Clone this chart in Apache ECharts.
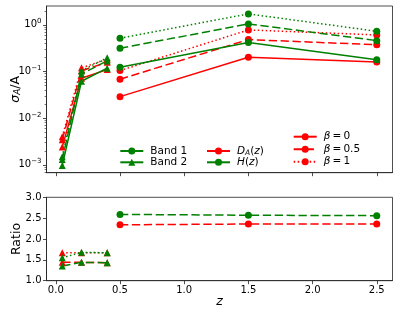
<!DOCTYPE html>
<html>
<head>
<meta charset="utf-8">
<script src="https://cdn.jsdelivr.net/npm/echarts@6/dist/echarts.min.js"></script>
<style>html,body{margin:0;padding:0;background:#fff}#c{width:399px;height:314px}</style>
</head>
<body>
<div id="c"></div>
<script>
// ---- data ----
const zBand1 = [0.5, 1.5, 2.5];
const zBand2 = [0.05, 0.2, 0.4];
// top panel: sigma_A / A
const DA_b0_band1  = [0.029, 0.203, 0.161];
const DA_b05_band1 = [0.0686, 0.485, 0.375];
const DA_b1_band1  = [0.105, 0.78, 0.61];
const H_b0_band1   = [0.124, 0.418, 0.178];
const H_b05_band1  = [0.316, 1.05, 0.46];
const H_b1_band1   = [0.518, 1.72, 0.73];
const DA_b0_band2  = [0.0024, 0.072, 0.110];
const DA_b05_band2 = [0.00346, 0.104, 0.158];
const DA_b1_band2  = [0.0040, 0.120, 0.184];
const H_b0_band2   = [0.00097, 0.062, 0.118];
const H_b05_band2  = [0.00130, 0.089, 0.169];
const H_b1_band2   = [0.00150, 0.104, 0.197];
// bottom panel: ratio
const ratioDA_b05_band1 = [2.34, 2.36, 2.36];
const ratioH_b05_band1  = [2.59, 2.57, 2.56];
const ratioDA_b05_band2 = [1.44, 1.44, 1.43];
const ratioH_b05_band2  = [1.35, 1.44, 1.43];
const ratioDA_b1_band2  = [1.67, 1.67, 1.67];
const ratioH_b1_band2   = [1.55, 1.68, 1.67];
// ticks
const xTicks = [0, 0.5, 1.0, 1.5, 2.0, 2.5];
const yLogTicks = [0.001, 0.01, 0.1, 1];
const yLogDecades = [0.0001, 0.001, 0.01, 0.1, 1];
const yLogMinorMult = [2, 3, 4, 5, 6, 7, 8, 9];

// ---- style ----
const FONT = 'DejaVu Sans';
const RED = '#ff0000', GREEN = '#008000';
const AX = '#222';
const SOLID = 'solid', DASHED = [8.3, 3.6], DOTTED = [1.5, 2.5];
const XMIN = -0.0725, XMAX = 2.6225;
const YMIN = Math.pow(10, -3.168), YMAX = Math.pow(10, 0.405);

const minorTicks = [];
yLogDecades.forEach(d => yLogMinorMult.forEach(m => { const v = m * d; if (v > YMIN && v < YMAX) minorTicks.push(v); }));

function pairs(xs, ys) { return xs.map((x, i) => [x, ys[i]]); }
function mk(name, xs, ys, color, symbol, dash, yAxisIndex, xAxisIndex) {
  return {
    name: name, type: 'line', xAxisIndex: xAxisIndex, yAxisIndex: yAxisIndex,
    data: pairs(xs, ys), symbol: symbol, symbolSize: 7, showSymbol: true,
    itemStyle: {color: color}, lineStyle: {color: color, width: 1.5, type: dash},
    emphasis: {disabled: true}, silent: true
  };
}
function dummy(name, color, symbol, dash) {
  return {
    name: name, type: 'line', xAxisIndex: 0, yAxisIndex: 0, data: [],
    symbol: symbol, symbolSize: 7,
    itemStyle: {color: color}, lineStyle: {color: color, width: 1.5, type: dash}
  };
}

const series = [
  mk('da0b1', zBand1, DA_b0_band1, RED, 'circle', SOLID, 0, 0),
  mk('da05b1', zBand1, DA_b05_band1, RED, 'circle', DASHED, 0, 0),
  mk('da1b1', zBand1, DA_b1_band1, RED, 'circle', DOTTED, 0, 0),
  mk('h0b1', zBand1, H_b0_band1, GREEN, 'circle', SOLID, 0, 0),
  mk('h05b1', zBand1, H_b05_band1, GREEN, 'circle', DASHED, 0, 0),
  mk('h1b1', zBand1, H_b1_band1, GREEN, 'circle', DOTTED, 0, 0),
  mk('da0b2', zBand2, DA_b0_band2, RED, 'triangle', SOLID, 0, 0),
  mk('da05b2', zBand2, DA_b05_band2, RED, 'triangle', DASHED, 0, 0),
  mk('da1b2', zBand2, DA_b1_band2, RED, 'triangle', DOTTED, 0, 0),
  mk('h0b2', zBand2, H_b0_band2, GREEN, 'triangle', SOLID, 0, 0),
  mk('h05b2', zBand2, H_b05_band2, GREEN, 'triangle', DASHED, 0, 0),
  mk('h1b2', zBand2, H_b1_band2, GREEN, 'triangle', DOTTED, 0, 0),
  mk('rda05b1', zBand1, ratioDA_b05_band1, RED, 'circle', DASHED, 1, 1),
  mk('rh05b1', zBand1, ratioH_b05_band1, GREEN, 'circle', DASHED, 1, 1),
  mk('rda05b2', zBand2, ratioDA_b05_band2, RED, 'triangle', DASHED, 1, 1),
  mk('rda1b2', zBand2, ratioDA_b1_band2, RED, 'triangle', DOTTED, 1, 1),
  mk('rh05b2', zBand2, ratioH_b05_band2, GREEN, 'triangle', DASHED, 1, 1),
  mk('rh1b2', zBand2, ratioH_b1_band2, GREEN, 'triangle', DOTTED, 1, 1),
  dummy('Band 1', GREEN, 'circle', SOLID),
  dummy('Band 2', GREEN, 'triangle', SOLID),
  dummy('DA', RED, 'circle', SOLID),
  dummy('H', GREEN, 'circle', SOLID),
  dummy('b0', RED, 'circle', SOLID),
  dummy('b05', RED, 'circle', DASHED),
  dummy('b1', RED, 'circle', DOTTED)
];

const legendLabels = {
  'Band 1': 'Band 1', 'Band 2': 'Band 2',
  'DA': '{i|D}{sub|A}{n|(}{i|z}{n|)}', 'H': '{i|H}{n|(}{i|z}{n|)}',
  'b0': '{i|β}{n|\u2009=\u20090}', 'b05': '{i|β}{n|\u2009=\u20090.5}', 'b1': '{i|β}{n|\u2009=\u20091}'
};
function legendText(lh) {
  return {
    fontFamily: FONT, fontSize: 10.5, color: '#000', lineHeight: lh, padding: [0, 0, 0, 2],
    rich: {
      i: {fontFamily: FONT, fontSize: 10.5, fontStyle: 'italic', color: '#000', lineHeight: lh},
      n: {fontFamily: FONT, fontSize: 10.5, color: '#000', lineHeight: lh},
      sub: {fontFamily: FONT, fontSize: 7.5, fontStyle: 'italic', color: '#000', lineHeight: 6, verticalAlign: 'bottom'}
    }
  };
}
function legend(names, left, top, lh) {
  return {
    data: names, left: left, top: top, orient: 'vertical', padding: 0, itemGap: 0,
    itemWidth: 23, itemHeight: 8.75, selectedMode: false,
    formatter: n => legendLabels[n], textStyle: legendText(lh)
  };
}

const axisLineStyle = {color: AX, width: 0.8};
const tickLabel = {fontFamily: FONT, fontSize: 10, color: '#000'};
const gridBase = {left: 46.5, width: 346, containLabel: false, outerBoundsMode: 'none'};

const option = {
  animation: false,
  backgroundColor: '#fff',
  grid: [
    Object.assign({top: 6, height: 166.7, show: true, borderColor: AX, borderWidth: 0.8}, gridBase),
    Object.assign({top: 197.3, height: 83.4, show: true, borderColor: AX, borderWidth: 0.8}, gridBase),
    Object.assign({top: 6, height: 166.7, show: false}, gridBase)
  ],
  legend: [
    legend(['Band 1', 'Band 2'], 119.3, 145.35, 11.3),
    legend(['DA', 'H'], 206, 145.35, 11.3),
    legend(['b0', 'b05', 'b1'], 292.7, 130.45, 12.5)
  ],
  xAxis: [
    {gridIndex: 0, type: 'value', min: XMIN, max: XMAX,
     axisLine: {show: true, onZero: false, lineStyle: axisLineStyle},
     axisTick: {show: true, length: 3.5, customValues: xTicks, lineStyle: axisLineStyle},
     axisLabel: {show: false, customValues: xTicks}, splitLine: {show: false}},
    {gridIndex: 1, type: 'value', min: XMIN, max: XMAX,
     axisLine: {show: true, onZero: false, lineStyle: axisLineStyle},
     axisTick: {show: true, length: 3.5, customValues: xTicks, lineStyle: axisLineStyle},
     axisLabel: Object.assign({customValues: xTicks, margin: 5, formatter: v => v.toFixed(1)}, tickLabel),
     splitLine: {show: false},
     name: 'z', nameLocation: 'middle', nameGap: 15, nameMoveOverlap: false,
     nameTextStyle: {fontFamily: FONT, fontSize: 12.5, fontStyle: 'italic', color: '#000'}},
    {gridIndex: 2, type: 'value', min: XMIN, max: XMAX, show: false,
     axisLine: {show: false, onZero: false}}
  ],
  yAxis: [
    {gridIndex: 0, type: 'log', logBase: 10, min: YMIN, max: YMAX,
     axisLine: {show: true, onZero: false, lineStyle: axisLineStyle},
     axisTick: {show: true, length: 3.5, customValues: yLogTicks, lineStyle: axisLineStyle},
     axisLabel: {customValues: yLogTicks, margin: 5,
       formatter: v => { const e = Math.round(Math.log10(v)); return '{b|10}{s|' + (e < 0 ? '\u2212' + (-e) : e) + '}'; },
       rich: {
         b: {fontFamily: FONT, fontSize: 10, color: '#000', lineHeight: 14},
         s: {fontFamily: FONT, fontSize: 7, color: '#000', lineHeight: 7, verticalAlign: 'top'}
       }},
     splitLine: {show: false},
     name: '{i|σ}{sub|A}{n|/A}', nameLocation: 'middle', nameGap: 24, nameMoveOverlap: false,
     nameTextStyle: {fontFamily: FONT, fontSize: 12.5, color: '#000',
       rich: {
         i: {fontFamily: FONT, fontSize: 12.5, fontStyle: 'italic', color: '#000', lineHeight: 14},
         n: {fontFamily: FONT, fontSize: 12.5, color: '#000', lineHeight: 14},
         sub: {fontFamily: FONT, fontSize: 9, fontStyle: 'italic', color: '#000', lineHeight: 7, verticalAlign: 'bottom'}
       }}},
    {gridIndex: 1, type: 'value', min: 1, max: 3, interval: 0.5,
     axisLine: {show: true, onZero: false, lineStyle: axisLineStyle},
     axisTick: {show: true, length: 3.5, lineStyle: axisLineStyle},
     axisLabel: Object.assign({margin: 5, formatter: v => v.toFixed(1)}, tickLabel),
     splitLine: {show: false},
     name: 'Ratio', nameLocation: 'middle', nameGap: 23, nameMoveOverlap: false,
     nameTextStyle: {fontFamily: FONT, fontSize: 12.5, color: '#000'}},
    {gridIndex: 2, type: 'log', logBase: 10, min: YMIN, max: YMAX,
     axisLine: {show: false, onZero: false},
     axisTick: {show: true, length: 2, customValues: minorTicks, lineStyle: {color: AX, width: 0.6}},
     axisLabel: {show: false, customValues: minorTicks}, splitLine: {show: false}}
  ],
  series: series
};
const chart = echarts.init(document.getElementById('c'), null, {renderer: 'canvas'});
chart.setOption(option);
</script>
</body>
</html>
